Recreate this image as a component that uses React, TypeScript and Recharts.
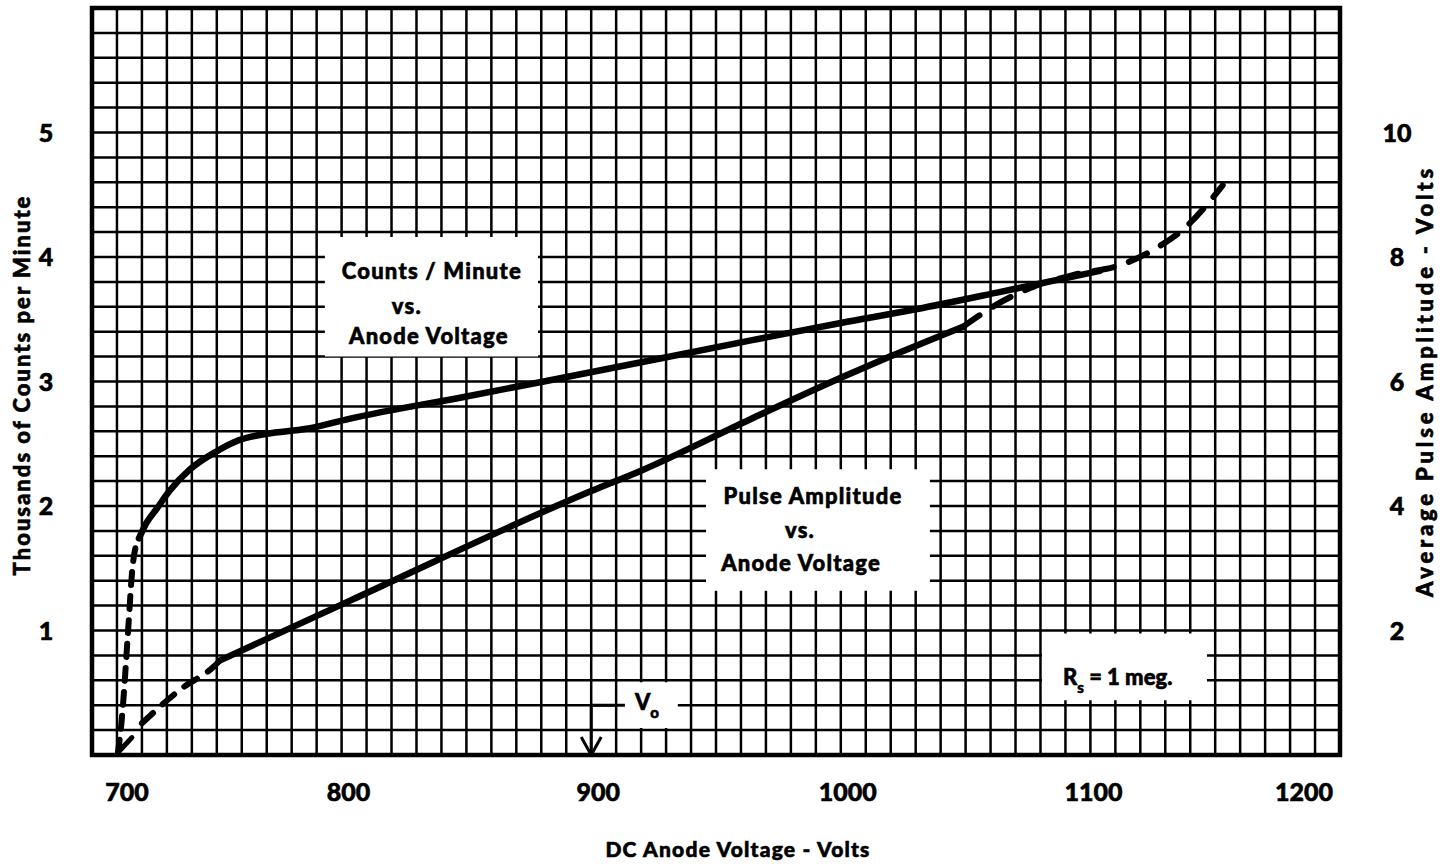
import React from "react";
import {
  CartesianGrid,
  Line,
  LineChart,
  ReferenceArea,
  ReferenceLine,
  XAxis,
  YAxis,
} from "recharts";

// counts per minute (thousands) vs anode voltage
const countsDashV = [710.4, 712, 713.2, 714.4, 716.4, 718.8];
const countsDashC = [0.02, 0.3, 0.62, 0.98, 1.54, 1.74];
const countsV = [718.8, 722, 726, 731, 739, 750, 759, 770, 786, 803, 850, 881, 964, 1000, 1030, 1064, 1104];
const countsC = [1.74, 1.87, 1.98, 2.12, 2.29, 2.44, 2.53, 2.58, 2.62, 2.7, 2.88, 3.0, 3.33, 3.47, 3.58, 3.72, 3.89];

// average pulse amplitude (volts) vs anode voltage
const pulseLowV = [720, 736, 748.5, 751.3];
const pulseLowA = [0.51, 1.07, 1.41, 1.52];
const pulseV = [751.3, 803.4, 900, 919.5, 963.6, 1000, 1019.7, 1049];
const pulseA = [1.52, 2.48, 4.24, 4.56, 5.39, 6.06, 6.4, 6.88];
const pulseHighV = [1049, 1063, 1077, 1094, 1112, 1125, 1139, 1153];
const pulseHighA = [6.88, 7.25, 7.52, 7.72, 7.87, 8.11, 8.51, 9.15];

const xLabels = [700, 800, 900, 1000, 1100, 1200];
const leftLabels = [1, 2, 3, 4, 5];
const rightLabels = [2, 4, 6, 8, 10];

const FONT = "Lato, 'DejaVu Sans', sans-serif";
const INK = "#000";
const WEIGHT = 900;
// faux-heavy text, the original lettering is very bold
const HEAVY = { stroke: INK, strokeWidth: 0.6 };

const pts = (xs: number[], ys: number[]) => xs.map((v, i) => ({ v, y: ys[i] }));

// grid every 10 V and every 0.2 thousand counts
const xGrid = Array.from({ length: 51 }, (_, k) => 700 + k * 10);
const yGrid = Array.from({ length: 31 }, (_, k) => Number((k * 0.2).toFixed(1)));

const XTick = (p: any) => {
  const v = p.payload.value;
  if (!xLabels.includes(v)) return <g />;
  const shift = v === 700 ? 35 : v === 1200 ? -36 : v === 1100 ? 3 : 7;
  return (
    <text x={p.x + shift} y={p.y + 38} textAnchor="middle" fontFamily={FONT} fontWeight={WEIGHT} fontSize={25} fill={INK} {...HEAVY}>
      {v}
    </text>
  );
};

const LeftTick = (p: any) => {
  const v = p.payload.value;
  if (!leftLabels.includes(v)) return <g />;
  return (
    <text x={46} y={p.y + 9} textAnchor="middle" fontFamily={FONT} fontWeight={WEIGHT} fontSize={25} fill={INK} {...HEAVY}>
      {v}
    </text>
  );
};

const RightTick = (p: any) => {
  const v = p.payload.value;
  return (
    <text x={p.x + 49} y={p.y + 9} textAnchor="middle" fontFamily={FONT} fontWeight={WEIGHT} fontSize={25} fill={INK} {...HEAVY}>
      {v}
    </text>
  );
};

const BoxText = (props: any) => {
  const { viewBox, lines } = props;
  const { x, y } = viewBox;
  return (
    <g>
      {lines.map((l: any, i: number) => (
        <text key={i} x={x + l.dx} y={y + l.dy} textAnchor="middle" fontFamily={FONT} fontWeight={WEIGHT} fontSize={22} letterSpacing={1.2} fill={INK} {...HEAVY}>
          {l.t}
        </text>
      ))}
    </g>
  );
};

const SubText = (props: any) => {
  const { viewBox, main, sub, rest, dx, dy } = props;
  return (
    <text x={viewBox.x + dx} y={viewBox.y + dy} fontFamily={FONT} fontWeight={WEIGHT} fontSize={22} fill={INK} {...HEAVY}>
      {main}
      <tspan dy={8} fontSize={15}>{sub}</tspan>
      <tspan dy={-8}>{rest}</tspan>
    </text>
  );
};

const Title = (props: any) => {
  const { viewBox, text, dx, dy, rot, size, spacing } = props;
  const cx = viewBox.x + dx;
  const cy = viewBox.y + dy;
  return (
    <g transform={`translate(${cx} ${cy}) rotate(${rot || 0})`}>
      <text
        x={0}
        y={0}
        textAnchor="middle"
        fontFamily={FONT}
        fontWeight={WEIGHT}
        fontSize={size}
        letterSpacing={spacing}
        fill={INK}
        {...HEAVY}
      >
        {text}
      </text>
    </g>
  );
};

const seg = (x1: number, y1: number, x2: number, y2: number) => [
  { x: x1, y: y1 },
  { x: x2, y: y2 },
];

export default function App() {
  return (
    <div style={{ position: "absolute", left: 0, top: 0, background: "#fff" }}>
      <LineChart width={1446} height={866} margin={{ top: 8, right: 0, bottom: 0, left: 0 }}>
        <CartesianGrid yAxisId="c" stroke={INK} strokeWidth={2.5} strokeOpacity={1} />
        <XAxis
          type="number"
          dataKey="v"
          domain={[700, 1200]}
          ticks={xGrid}
          interval={0}
          allowDataOverflow
          axisLine={false}
          tickLine={false}
          height={111}
          tick={<XTick />}
          label={<Title text="DC Anode Voltage - Volts" dx={646} dy={102} size={21} spacing={1.2} />}
        />
        <YAxis
          yAxisId="c"
          orientation="left"
          domain={[0, 6]}
          ticks={yGrid}
          interval={0}
          allowDataOverflow
          axisLine={false}
          tickLine={false}
          width={92}
          tick={<LeftTick />}
          label={<Title text="Thousands of Counts per Minute" dx={30} dy={377} rot={-90} size={22} spacing={2} />}
        />
        <YAxis
          yAxisId="a"
          orientation="right"
          domain={[0, 12]}
          ticks={rightLabels}
          interval={0}
          allowDataOverflow
          axisLine={false}
          tickLine={false}
          width={106}
          tick={<RightTick />}
          label={<Title text="Average Pulse Amplitude - Volts" dx={93} dy={373} rot={-90} size={22} spacing={3.8} />}
        />

        <ReferenceArea yAxisId="c" x1={793.3} x2={878.7} y1={3.2} y2={4.16} fill="#fff" fillOpacity={1} stroke="none"
          label={<BoxText lines={[{ t: "Counts / Minute", dx: 107, dy: 42 }, { t: "vs.", dx: 82, dy: 77 }, { t: "Anode Voltage", dx: 104, dy: 107 }]} />} />
        <ReferenceArea yAxisId="c" x1={946} x2={1035.7} y1={1.32} y2={2.296} fill="#fff" fillOpacity={1} stroke="none"
          label={<BoxText lines={[{ t: "Pulse Amplitude", dx: 107, dy: 35 }, { t: "vs.", dx: 94, dy: 69 }, { t: "Anode Voltage", dx: 95, dy: 102 }]} />} />
        <ReferenceArea yAxisId="c" x1={1080.6} x2={1146.7} y1={0.44} y2={0.976} fill="#fff" fillOpacity={1} stroke="none"
          label={<SubText main="R" sub="s" rest=" = 1 meg." dx={21} dy={52} />} />
        <ReferenceArea yAxisId="c" x1={910.7} x2={934.7} y1={0.216} y2={0.584} fill="#fff" fillOpacity={1} stroke="none"
          label={<SubText main="V" sub="o" rest="" dx={17} dy={28} />} />

        <ReferenceLine yAxisId="c" segment={seg(900, 0.4, 900, 0)} stroke={INK} strokeWidth={3} />
        <ReferenceLine yAxisId="c" segment={seg(900, 0.4, 913.5, 0.4)} stroke={INK} strokeWidth={3} />
        <ReferenceLine yAxisId="c" segment={seg(896, 0.144, 900, 0)} stroke={INK} strokeWidth={3} />
        <ReferenceLine yAxisId="c" segment={seg(904, 0.144, 900, 0)} stroke={INK} strokeWidth={3} />
        <ReferenceLine yAxisId="c" segment={seg(710.4, 0.02, 716, 0.14)} stroke={INK} strokeWidth={5} strokeLinecap="round" />

        <ReferenceArea yAxisId="c" x1={700} x2={1200} y1={0} y2={6} fill="none" stroke={INK} strokeWidth={4.5} ifOverflow="visible" />

        <Line yAxisId="c" data={pts(countsDashV, countsDashC)} dataKey="y" type="monotone" stroke={INK} strokeWidth={6}
          strokeDasharray="13 11" strokeLinecap="round" dot={false} isAnimationActive={false} />
        <Line yAxisId="c" data={pts(countsV, countsC)} dataKey="y" type="monotone" stroke={INK} strokeWidth={6.5}
          strokeLinecap="round" dot={false} isAnimationActive={false} />
        <Line yAxisId="a" data={pts(pulseLowV, pulseLowA)} dataKey="y" type="monotone" stroke={INK} strokeWidth={6}
          strokeDasharray="15 13" strokeLinecap="round" dot={false} isAnimationActive={false} />
        <Line yAxisId="a" data={pts(pulseV, pulseA)} dataKey="y" type="monotone" stroke={INK} strokeWidth={6.5}
          strokeLinecap="round" dot={false} isAnimationActive={false} />
        <Line yAxisId="a" data={pts(pulseHighV, pulseHighA)} dataKey="y" type="monotone" stroke={INK} strokeWidth={6}
          strokeDasharray="20 16" strokeLinecap="round" dot={false} isAnimationActive={false} />
      </LineChart>
    </div>
  );
}
